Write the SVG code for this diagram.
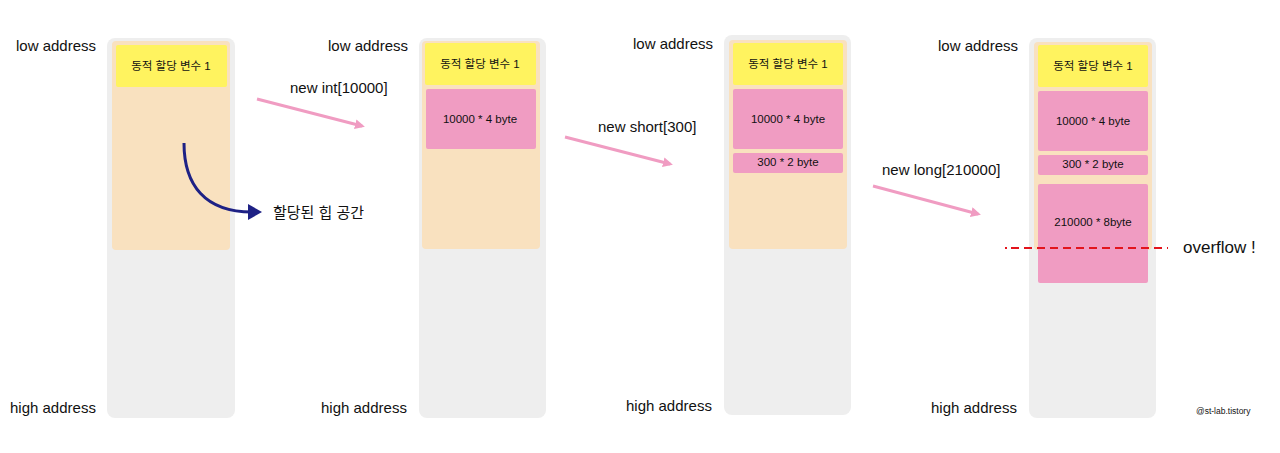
<svg xmlns="http://www.w3.org/2000/svg" width="1280" height="453" viewBox="0 0 1280 453">
<style>
text{font-family:"Liberation Sans","Noto Sans CJK KR",sans-serif;fill:#111}
.addr{font-size:15px}
.gray{fill:#eeeeee}
.peach{fill:#f9e1bf}
.yel{fill:#fff35f}
.pink{fill:#f09cc2}
.in{font-size:11.5px;text-anchor:middle}
.lbl{font-size:15px}
.pa{stroke:#f09cc2;stroke-width:3;fill:none}
</style>
<defs>
<marker id="ph" markerWidth="10" markerHeight="10" refX="7" refY="5" orient="auto" markerUnits="userSpaceOnUse" viewBox="0 0 10 10">
<path d="M0,0 L10,5 L0,10 Z" fill="#f09cc2"/>
</marker>
<marker id="nh" markerWidth="14" markerHeight="16" refX="4" refY="8" orient="auto" markerUnits="userSpaceOnUse" viewBox="0 0 14 16">
<path d="M0,0 L14,8 L0,16 Z" fill="#1e2185"/>
</marker>
</defs>
<rect width="1280" height="453" fill="#fff"/>

<g id="col1">
<text class="addr" x="16" y="51">low address</text>
<text class="addr" x="10" y="413">high address</text>
<rect class="gray" x="107" y="38" width="128" height="380" rx="8"/>
<rect class="peach" x="112" y="41" width="118" height="209" rx="4"/>
<rect class="yel" x="116" y="45" width="111" height="42" rx="2"/>
<text class="in" x="171" y="70">동적 할당 변수 1</text>
</g>

<g id="col2">
<text class="addr" x="328" y="51">low address</text>
<text class="addr" x="321" y="413">high address</text>
<rect class="gray" x="419" y="38" width="127" height="380" rx="8"/>
<rect class="peach" x="422" y="41" width="118" height="208" rx="4"/>
<rect class="yel" x="425" y="43" width="111" height="42" rx="2"/>
<text class="in" x="480" y="68">동적 할당 변수 1</text>
<rect class="pink" x="426" y="89" width="110" height="60" rx="2"/>
<text class="in" x="480" y="123">10000 * 4 byte</text>
</g>

<g id="col3">
<text class="addr" x="633" y="49">low address</text>
<text class="addr" x="626" y="411">high address</text>
<rect class="gray" x="724" y="35" width="127" height="380" rx="8"/>
<rect class="peach" x="729" y="40" width="118" height="209" rx="4"/>
<rect class="yel" x="733" y="43" width="110" height="42" rx="2"/>
<text class="in" x="788" y="68">동적 할당 변수 1</text>
<rect class="pink" x="733" y="89" width="110" height="60" rx="2"/>
<text class="in" x="788" y="123">10000 * 4 byte</text>
<rect class="pink" x="733" y="153" width="110" height="20" rx="2"/>
<text class="in" x="788" y="166">300 * 2 byte</text>
</g>

<g id="col4">
<text class="addr" x="938" y="51">low address</text>
<text class="addr" x="931" y="413">high address</text>
<rect class="gray" x="1029" y="38" width="127" height="380" rx="8"/>
<rect class="peach" x="1034" y="42" width="118" height="208" rx="4"/>
<rect class="yel" x="1038" y="45" width="110" height="42" rx="2"/>
<text class="in" x="1093" y="70">동적 할당 변수 1</text>
<rect class="pink" x="1038" y="91" width="110" height="60" rx="2"/>
<text class="in" x="1093" y="125">10000 * 4 byte</text>
<rect class="pink" x="1038" y="155" width="110" height="20" rx="2"/>
<text class="in" x="1093" y="168">300 * 2 byte</text>
<rect class="pink" x="1038" y="184" width="110" height="99" rx="2"/>
<text class="in" x="1093" y="226">210000 * 8byte</text>
</g>

<g id="connectors">
<path class="pa" d="M257,99 L362,126" marker-end="url(#ph)"/>
<path class="pa" d="M565,137 L670,164" marker-end="url(#ph)"/>
<path class="pa" d="M873,186 L978,214" marker-end="url(#ph)"/>
<path d="M184,143 C184,185 205,212 252,212" fill="none" stroke="#1e2185" stroke-width="3" marker-end="url(#nh)"/>
<line x1="1005" y1="248" x2="1168" y2="248" stroke="#e3141c" stroke-width="2" stroke-dasharray="2,4,8,5,8,5,8,5,8,5,8,5,8,5,8,5,8,5,8,5,8,5,8,5,8,5,8,5"/>
</g>

<g id="labels">
<text class="lbl" x="290" y="93">new int[10000]</text>
<text class="lbl" x="598" y="132">new short[300]</text>
<text class="lbl" x="882" y="175">new long[210000]</text>
<text class="lbl" x="273" y="218">할당된 힙 공간</text>
<text x="1183" y="253" style="font-size:17px">overflow !</text>
<text x="1196" y="414" style="font-size:8.5px">@st-lab.tistory</text>
</g>
</svg>
